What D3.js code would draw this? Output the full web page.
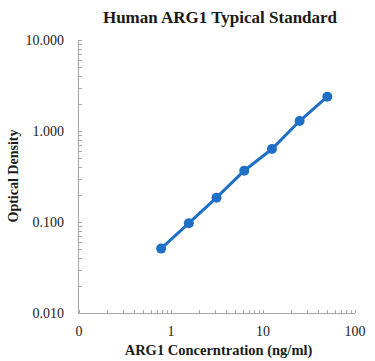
<!DOCTYPE html>
<html>
<head>
<meta charset="utf-8">
<script src="https://cdn.jsdelivr.net/npm/d3@7"></script>
<style>
  body { margin: 0; background: #fff; }
  text { font-family: "Liberation Serif", "Times New Roman", serif; }
</style>
</head>
<body>
<div id="chart"></div>
<script>
const concentration = [0.781, 1.563, 3.125, 6.25, 12.5, 25, 50]
const opticalDensity = [0.051, 0.097, 0.185, 0.366, 0.634, 1.288, 2.38]
const xTickValues = [0.1, 1, 10, 100]
const xTickLabels = ["0", "1", "10", "100"]
const yTickValues = [0.01, 0.1, 1, 10]
const yTickLabels = ["0.010", "0.100", "1.000", "10.000"]

const width = 375
, height = 361
, plotLeft = 79
, plotRight = 355
, plotTop = 40
, plotBottom = 313
, axisColor = "#a6a6a6"
, textColor = "#1a1a1a"
, lineColor = "#1f6fc5"

const svg = d3.select("#chart")
  .append("svg")
  .attr("width", width)
  .attr("height", height)

const x = d3.scaleLog().domain([0.1, 100]).range([plotLeft, plotRight])
const y = d3.scaleLog().domain([0.01, 10]).range([plotBottom, plotTop])

// minor ticks, 2..9 within each decade
function minorTicks(lo, hi) {
  var out = []
  for (var d = lo; d < hi * 0.999; d *= 10) {
    for (var k = 2; k <= 9; k++) out.push(d * k)
  }
  return out
}

svg.append("g")
  .selectAll("line")
  .data(minorTicks(0.1, 100).concat(xTickValues))
  .enter().append("line")
  .attr("x1", d => Math.round(x(d)) + 0.5)
  .attr("x2", d => Math.round(x(d)) + 0.5)
  .attr("y1", plotBottom)
  .attr("y2", plotBottom - 3)
  .style("stroke", axisColor)
  .style("stroke-width", 1)

svg.append("g")
  .selectAll("line")
  .data(minorTicks(0.01, 10).concat(yTickValues))
  .enter().append("line")
  .attr("x1", plotLeft)
  .attr("x2", plotLeft + 3)
  .attr("y1", d => Math.round(y(d)) + 0.5)
  .attr("y2", d => Math.round(y(d)) + 0.5)
  .style("stroke", axisColor)
  .style("stroke-width", 1)

svg.append("line")
  .attr("x1", plotLeft).attr("x2", plotRight)
  .attr("y1", plotBottom + 0.5).attr("y2", plotBottom + 0.5)
  .style("stroke", axisColor)
svg.append("line")
  .attr("x1", plotLeft - 0.5).attr("x2", plotLeft - 0.5)
  .attr("y1", plotTop).attr("y2", plotBottom + 1)
  .style("stroke", axisColor)

svg.append("g")
  .selectAll("text")
  .data(xTickValues)
  .enter().append("text")
  .attr("x", d => x(d))
  .attr("y", plotBottom + 23)
  .attr("text-anchor", "middle")
  .style("font-size", "14px")
  .style("fill", textColor)
  .text((d, i) => xTickLabels[i])

svg.append("g")
  .selectAll("text")
  .data(yTickValues)
  .enter().append("text")
  .attr("x", plotLeft - 15)
  .attr("y", d => y(d) + 5)
  .attr("text-anchor", "end")
  .style("font-size", "14px")
  .style("fill", textColor)
  .text((d, i) => yTickLabels[i])

const line = d3.line()
  .x((d, i) => x(concentration[i]))
  .y(d => y(d))

svg.append("path")
  .datum(opticalDensity)
  .attr("d", line)
  .style("fill", "none")
  .style("stroke", lineColor)
  .style("stroke-width", 3)

svg.append("g")
  .selectAll("circle")
  .data(opticalDensity)
  .enter().append("circle")
  .attr("cx", (d, i) => x(concentration[i]))
  .attr("cy", d => y(d))
  .attr("r", 5)
  .style("fill", lineColor)

svg.append("text")
  .attr("x", 220)
  .attr("y", 23)
  .attr("text-anchor", "middle")
  .style("font-size", "17px")
  .style("font-weight", "bold")
  .style("fill", textColor)
  .text("Human ARG1 Typical Standard")

svg.append("text")
  .attr("x", 218.5)
  .attr("y", 355)
  .attr("text-anchor", "middle")
  .style("font-size", "14.5px")
  .style("font-weight", "bold")
  .style("fill", textColor)
  .text("ARG1 Concerntration (ng/ml)")

svg.append("text")
  .attr("transform", "translate(18,176) rotate(-90)")
  .attr("text-anchor", "middle")
  .style("font-size", "14px")
  .style("font-weight", "bold")
  .style("fill", textColor)
  .text("Optical Density")
</script>
</body>
</html>
